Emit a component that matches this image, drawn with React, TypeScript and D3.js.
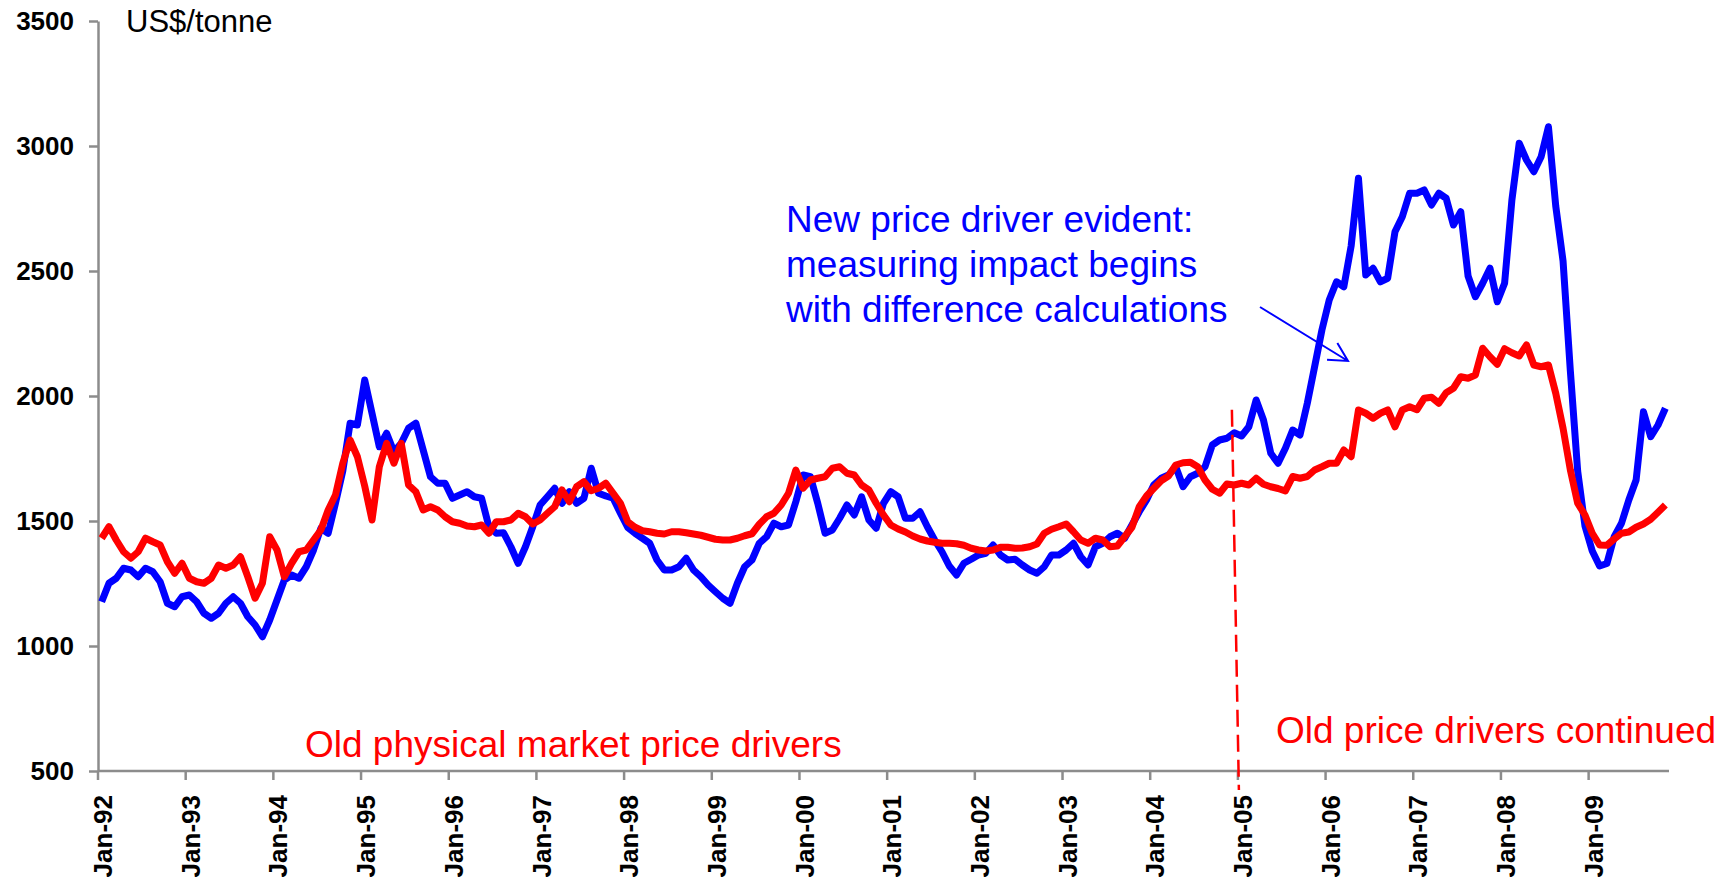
import React, { useEffect, useRef } from "react";
import * as d3 from "d3";

// Monthly prices, Jan-92 .. Nov-09, US$/tonne
const bluePrices = [
  1177, 1251, 1271, 1311, 1304, 1277, 1311, 1297, 1257, 1171, 1157, 1197, // 1992
  1204, 1177, 1131, 1111, 1131, 1171, 1197, 1171, 1117, 1084, 1037, 1104, // 1993
  1184, 1264, 1284, 1271, 1317, 1384, 1471, 1451, 1571, 1700, 1891, 1884, // 1994
  2064, 1931, 1797, 1851, 1777, 1811, 1871, 1891, 1784, 1677, 1651, 1651, // 1995
  1591, 1604, 1617, 1597, 1591, 1477, 1451, 1453, 1397, 1331, 1397, 1477, // 1996
  1564, 1597, 1631, 1571, 1617, 1571, 1591, 1711, 1611, 1600, 1591, 1531, // 1997
  1474, 1451, 1431, 1411, 1344, 1304, 1304, 1317, 1351, 1304, 1277, 1244, // 1998
  1217, 1191, 1171, 1251, 1317, 1344, 1411, 1437, 1491, 1477, 1484, 1577, // 1999
  1684, 1677, 1571, 1451, 1464, 1511, 1564, 1524, 1597, 1504, 1471, 1571, // 2000
  1617, 1597, 1511, 1511, 1537, 1477, 1424, 1377, 1320, 1284, 1331, 1347, // 2001
  1364, 1371, 1404, 1364, 1344, 1347, 1324, 1304, 1291, 1317, 1364, 1364, // 2002
  1384, 1411, 1357, 1324, 1397, 1411, 1437, 1451, 1431, 1484, 1537, 1584, // 2003
  1645, 1671, 1684, 1717, 1637, 1677, 1691, 1717, 1804, 1824, 1831, 1853, // 2004
  1840, 1877, 1984, 1904, 1771, 1731, 1791, 1864, 1844, 1971, 2117, 2264, // 2005
  2384, 2457, 2437, 2600, 2871, 2484, 2511, 2457, 2471, 2657, 2717, 2811, // 2006
  2811, 2824, 2764, 2811, 2791, 2684, 2737, 2480, 2397, 2451, 2511, 2377, // 2007
  2451, 2784, 3011, 2944, 2897, 2957, 3077, 2760, 2540, 2100, 1700, 1480, // 2008
  1380, 1320, 1330, 1437, 1491, 1584, 1664, 1937, 1837, 1884, 1951, // 2009
];

const redPrices = [
  1431, 1477, 1424, 1377, 1351, 1377, 1431, 1417, 1404, 1337, 1291, 1331,
  1271, 1257, 1251, 1271, 1324, 1311, 1324, 1357, 1277, 1191, 1251, 1437,
  1384, 1277, 1331, 1377, 1384, 1424, 1464, 1544, 1604, 1731, 1824, 1757,
  1640, 1504, 1717, 1811, 1731, 1811, 1644, 1617, 1544, 1557, 1544, 1517,
  1497, 1491, 1480, 1477, 1484, 1451, 1497, 1497, 1504, 1531, 1517, 1488,
  1504, 1531, 1557, 1624, 1577, 1637, 1657, 1621, 1631, 1651, 1611, 1571,
  1497, 1475, 1461, 1457, 1451, 1448, 1457, 1457, 1453, 1448, 1443, 1435,
  1427, 1424, 1424, 1431, 1441, 1449, 1487, 1517, 1531, 1564, 1611, 1704,
  1631, 1664, 1671, 1677, 1711, 1717, 1691, 1684, 1644, 1624, 1571, 1524,
  1484, 1468, 1456, 1440, 1428, 1420, 1415, 1411, 1411, 1409, 1403, 1391,
  1384, 1380, 1384, 1395, 1395, 1391, 1392, 1397, 1408, 1451, 1467, 1477,
  1488, 1457, 1424, 1411, 1431, 1424, 1397, 1400, 1437, 1475, 1557, 1600,
  1631, 1661, 1680, 1724, 1733, 1735, 1717, 1664, 1627, 1611, 1648, 1644,
  1651, 1644, 1671, 1647, 1637, 1630, 1620, 1678, 1671, 1678, 1704, 1717,
  1731, 1731, 1784, 1757, 1944, 1931, 1911, 1931, 1944, 1877, 1944, 1957,
  1945, 1991, 1995, 1971, 2013, 2031, 2077, 2071, 2084, 2191, 2157, 2127,
  2189, 2173, 2160, 2204, 2124, 2117, 2124, 2011, 1871, 1704, 1571, 1524,
  1451, 1404, 1403, 1428, 1451, 1456, 1475, 1488, 1507, 1535, 1564,
];

const yTicks = [500, 1000, 1500, 2000, 2500, 3000, 3500];
const tickYears = d3.range(1992, 2010);
const months = d3.timeMonth.range(new Date(1992, 0, 1), new Date(2009, 11, 1));

const noteLines = [
  "New price driver evident:",
  "measuring impact begins",
  "with difference calculations",
];

const App = () => {
  const ref = useRef<SVGSVGElement | null>(null);

  useEffect(() => {
    const svg = d3.select(ref.current);
    svg.selectAll("*").remove();

    const width = 1736;
    const height = 881;
    const left = 98;
    const right = 1669;
    const top = 21;
    const bottom = 771;
    const font = "'Liberation Sans', Arial, sans-serif";
    const axisGrey = "#8c8c8c";

    svg.attr("width", width).attr("height", height);

    const x = d3.scaleBand<Date>().domain(months).range([left, right]);
    const y = d3.scaleLinear().domain([500, 3500]).range([bottom, top]);
    const xMid = (d: Date) => (x(d) as number) + x.bandwidth() / 2;

    // y axis
    const yAxis = svg
      .append("g")
      .attr("transform", `translate(${left},0)`)
      .call(
        d3.axisLeft(y).tickValues(yTicks).tickSize(9).tickSizeOuter(0).tickPadding(15).tickFormat(d3.format("d"))
      );
    yAxis.select(".domain").attr("stroke", axisGrey).attr("stroke-width", 2.5);
    yAxis.selectAll(".tick line").attr("stroke", axisGrey).attr("stroke-width", 2.5);
    yAxis
      .selectAll(".tick text")
      .attr("fill", "#000")
      .style("font-family", font)
      .style("font-size", "26px")
      .style("font-weight", "bold");

    // x axis
    svg
      .append("line")
      .attr("x1", left)
      .attr("x2", right)
      .attr("y1", bottom)
      .attr("y2", bottom)
      .attr("stroke", axisGrey)
      .attr("stroke-width", 2.5);

    const jan = tickYears.map((yr) => new Date(yr, 0, 1));
    svg
      .selectAll(".xtick")
      .data(jan)
      .enter()
      .append("line")
      .attr("x1", (d) => x(d) as number)
      .attr("x2", (d) => x(d) as number)
      .attr("y1", bottom)
      .attr("y2", bottom + 9)
      .attr("stroke", axisGrey)
      .attr("stroke-width", 2.5);

    svg
      .selectAll(".xlabel")
      .data(jan)
      .enter()
      .append("text")
      .attr("transform", (d) => `translate(${(x(d) as number) + 5},795) rotate(-90)`)
      .attr("dy", "0.35em")
      .attr("text-anchor", "end")
      .text((d) => d3.timeFormat("%b-%y")(d))
      .style("font-family", font)
      .style("font-size", "26px")
      .style("font-weight", "bold")
      .style("fill", "#000");

    // series
    const line = d3
      .line<number>()
      .x((_, i) => xMid(months[i]))
      .y((d) => y(d));

    svg
      .append("path")
      .datum(bluePrices)
      .attr("d", line)
      .attr("fill", "none")
      .attr("stroke", "#0000ff")
      .attr("stroke-width", 7)
      .attr("stroke-linejoin", "round");

    svg
      .append("path")
      .datum(redPrices)
      .attr("d", line)
      .attr("fill", "none")
      .attr("stroke", "#ff0000")
      .attr("stroke-width", 7)
      .attr("stroke-linejoin", "round");

    // dashed divider at Jan-05
    const x05 = x(new Date(2005, 0, 1)) as number;
    svg
      .append("line")
      .attr("x1", x05 - 6)
      .attr("y1", y(1945))
      .attr("x2", x05 + 1)
      .attr("y2", bottom + 19)
      .attr("stroke", "#ff0000")
      .attr("stroke-width", 2.5)
      .attr("stroke-dasharray", "17 8");

    // labels
    svg
      .append("text")
      .attr("x", 126)
      .attr("y", 32)
      .text("US$/tonne")
      .style("font-family", font)
      .style("font-size", "31px")
      .style("fill", "#000");

    svg
      .append("text")
      .attr("x", 305)
      .attr("y", 757)
      .text("Old physical market price drivers")
      .style("font-family", font)
      .style("font-size", "37px")
      .style("fill", "#ff0000");

    svg
      .append("text")
      .attr("x", 1276)
      .attr("y", 743)
      .text("Old price drivers continued")
      .style("font-family", font)
      .style("font-size", "37px")
      .style("fill", "#ff0000");

    svg
      .selectAll(".note")
      .data(noteLines)
      .enter()
      .append("text")
      .attr("x", 786)
      .attr("y", (_, i) => 232 + i * 45)
      .text((d) => d)
      .style("font-family", font)
      .style("font-size", "37px")
      .style("fill", "#0000ff");

    // arrow
    const tail = [1260, 307];
    const tip = [1348, 361];
    const ang = Math.atan2(tail[1] - tip[1], tail[0] - tip[0]);
    const head = 21;
    const spread = (28 * Math.PI) / 180;
    const w1 = [tip[0] + head * Math.cos(ang + spread), tip[1] + head * Math.sin(ang + spread)];
    const w2 = [tip[0] + head * Math.cos(ang - spread), tip[1] + head * Math.sin(ang - spread)];
    svg
      .append("path")
      .attr(
        "d",
        `M${tail[0]},${tail[1]}L${tip[0]},${tip[1]}M${w1[0]},${w1[1]}L${tip[0]},${tip[1]}L${w2[0]},${w2[1]}`
      )
      .attr("fill", "none")
      .attr("stroke", "#0000ff")
      .attr("stroke-width", 2);
  }, []);

  return <svg ref={ref} style={{ position: "absolute", left: 0, top: 0 }}></svg>;
};

export default App;
